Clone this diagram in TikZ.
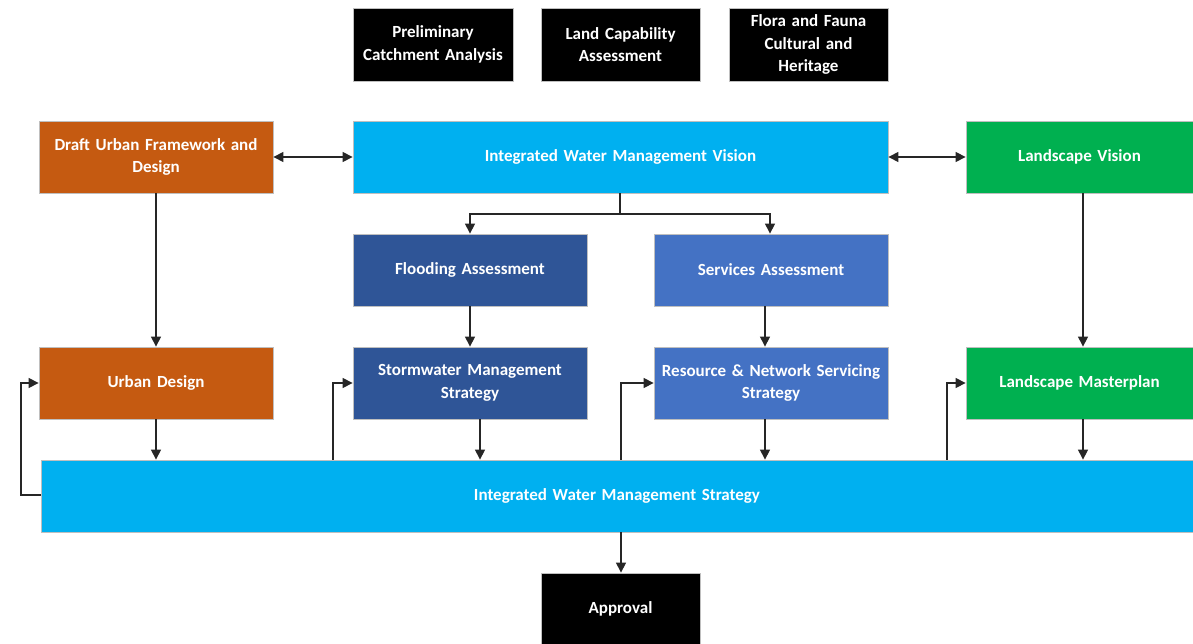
\documentclass[tikz,border=0pt]{standalone}
\usepackage{fontspec}
\setmainfont{Carlito}
\usetikzlibrary{arrows.meta}
\definecolor{cblack}{HTML}{000000}
\definecolor{corange}{HTML}{C55A11}
\definecolor{clblue}{HTML}{00B0F0}
\definecolor{cgreen}{HTML}{00B050}
\definecolor{cdblue}{HTML}{2F5597}
\definecolor{cmblue}{HTML}{4472C4}
\definecolor{cedge}{HTML}{BFBFBF}
\tikzset{
  box/.style={draw=cedge, line width=0.8pt, text=white, font=\fontsize{17}{22.5}\selectfont\bfseries, align=center, inner sep=2pt},
  conn/.style={draw=black!85, line width=1.2pt, -{Triangle[length=10pt,width=10pt]}},
  dconn/.style={draw=black!85, line width=1.2pt, {Triangle[length=10pt,width=10pt]}-{Triangle[length=10pt,width=10pt]}},
  plain/.style={draw=black!85, line width=1.2pt},
}
\newcommand{\bx}[8]{% name, x1, y1, x2, y2, color, text
  \node[box, fill=#6, minimum width={#4-#2}, minimum height={#5-#3}, text width={#4-#2-8}] (#1) at ({(#2+#4)/2},{(#3+#5)/2}) {#7};}
\begin{document}
\begin{tikzpicture}[x=1pt,y=-1pt]
\useasboundingbox (0,0) rectangle (1193,644);
\bx{pca}{353}{8}{513}{81}{cblack}{Preliminary\\Catchment Analysis}{}
\bx{lca}{541}{8}{700}{81}{cblack}{Land Capability\\Assessment}{}
\bx{ffc}{729}{8}{888}{81}{cblack}{Flora and Fauna\\Cultural and\\Heritage}{}
\bx{duf}{39}{121}{273}{193}{corange}{Draft Urban Framework and\\Design}{}
\bx{iwmv}{353}{121}{888}{193}{clblue}{Integrated Water Management Vision}{}
\bx{lv}{966}{121}{1193}{193}{cgreen}{Landscape Vision}{}
\bx{fa}{353}{234}{587}{306}{cdblue}{Flooding Assessment}{}
\bx{sa}{654}{234}{888}{306}{cmblue}{Services Assessment}{}
\bx{ud}{39}{347}{273}{419}{corange}{Urban Design}{}
\bx{sms}{353}{347}{587}{419}{cdblue}{Stormwater Management\\Strategy}{}
\bx{rns}{654}{347}{888}{419}{cmblue}{Resource \& Network Servicing\\Strategy}{}
\bx{lm}{966}{347}{1193}{419}{cgreen}{Landscape Masterplan}{}
\bx{iwms}{41}{460}{1193}{532}{clblue}{Integrated Water Management Strategy}{}
\bx{app}{541}{573}{700}{644}{cblack}{Approval}{}
% connectors
\draw[dconn] (duf.east) -- (iwmv.west);
\draw[dconn] (iwmv.east) -- (lv.west);
\coordinate (split) at (620,214);
\draw[plain] (iwmv.south -| split) -- (split);
\draw[conn] (split) -| (fa.north -| 470,0);
\draw[conn] (split) -| (sa.north -| 770,0);
\draw[conn] (duf.south -| 156,0) -- (ud.north -| 156,0);
\draw[conn] (fa.south -| 470,0) -- (sms.north -| 470,0);
\draw[conn] (sa.south -| 765,0) -- (rns.north -| 765,0);
\draw[conn] (lv.south -| 1083,0) -- (lm.north -| 1083,0);
\draw[conn] (ud.south -| 156,0) -- (iwms.north -| 156,0);
\draw[conn] (sms.south -| 480,0) -- (iwms.north -| 480,0);
\draw[conn] (rns.south -| 765,0) -- (iwms.north -| 765,0);
\draw[conn] (lm.south -| 1083,0) -- (iwms.north -| 1083,0);
\draw[conn] (iwms.west |- 0,495) -- (21,495) |- (ud.west);
\draw[conn] (iwms.north -| 333,0) |- (sms.west);
\draw[conn] (iwms.north -| 621,0) |- (rns.west);
\draw[conn] (iwms.north -| 947,0) |- (lm.west);
\draw[conn] (iwms.south -| 621,0) -- (app.north -| 621,0);
\end{tikzpicture}
\end{document}
